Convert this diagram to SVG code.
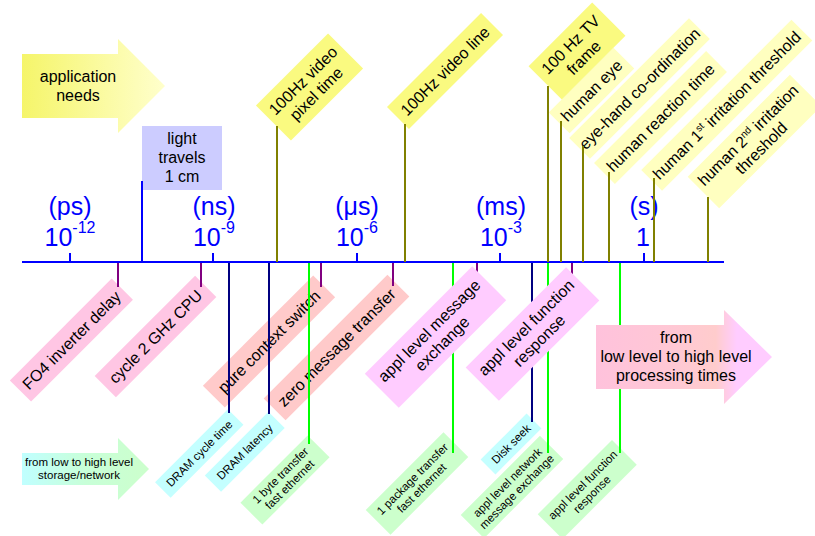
<svg xmlns="http://www.w3.org/2000/svg" width="815" height="536" viewBox="0 0 815 536">
<style>
.t{font-family:"Liberation Sans",Arial,sans-serif;fill:#000;text-anchor:middle}
.f16{font-size:16px}
.f11{font-size:11.5px}
.unit{font-family:"Liberation Sans",Arial,sans-serif;font-size:25px;fill:#0000ff;text-anchor:middle}
.yel{fill:#fafa80}
.pale{fill:#ffffc0;stroke:#fff;stroke-width:1.5}
.pk1{fill:#ffc6e4}
.pk2{fill:#ffcaca}
.mag{fill:#ffccff}
.cy{fill:#c4ffff}
.gn{fill:#ccffcc}
.bl{stroke:#0000ff;stroke-width:2}
.ol{stroke:#808000;stroke-width:2}
.pu{stroke:#800080;stroke-width:2}
.nv{stroke:#000080;stroke-width:2}
.gr{stroke:#00ff00;stroke-width:2}
</style>
<defs>
<linearGradient id="gApp" x1="0" y1="0" x2="1" y2="0">
<stop offset="0" stop-color="#f5f56a"/><stop offset="1" stop-color="#ffffcc"/>
</linearGradient>
<linearGradient id="gSto" x1="0" y1="0" x2="1" y2="0">
<stop offset="0" stop-color="#c0ffff"/><stop offset="0.5" stop-color="#c8ffd8"/><stop offset="1" stop-color="#ccffcc"/>
</linearGradient>
<linearGradient id="gProc" x1="0" y1="0" x2="1" y2="0">
<stop offset="0" stop-color="#ffc2dc"/><stop offset="0.45" stop-color="#ffc8d4"/><stop offset="0.68" stop-color="#ffcccc"/><stop offset="0.8" stop-color="#ffccff"/><stop offset="1" stop-color="#ffccff"/>
</linearGradient>
</defs>
<rect width="815" height="536" fill="#fff"/>

<g id="axis">
<line class="bl" x1="22" y1="262" x2="724" y2="262"/>
<line class="bl" x1="70" y1="253" x2="70" y2="262"/>
<line class="bl" x1="213" y1="253" x2="213" y2="262"/>
<line class="bl" x1="357" y1="253" x2="357" y2="262"/>
<line class="bl" x1="500" y1="253" x2="500" y2="262"/>
<line class="bl" x1="644" y1="253" x2="644" y2="262"/>
</g>

<g id="scale-labels">
<text class="unit" x="70" y="215">(ps)</text>
<text class="unit" x="70" y="246">10<tspan font-size="16" dy="-13">-12</tspan></text>
<text class="unit" x="214" y="215">(ns)</text>
<text class="unit" x="214" y="246">10<tspan font-size="16" dy="-13">-9</tspan></text>
<text class="unit" x="357" y="215">(μs)</text>
<text class="unit" x="357" y="246">10<tspan font-size="16" dy="-13">-6</tspan></text>
<text class="unit" x="501" y="215">(ms)</text>
<text class="unit" x="501" y="246">10<tspan font-size="16" dy="-13">-3</tspan></text>
<text class="unit" x="644" y="215">(s)</text>
<text class="unit" x="643" y="246">1</text>
</g>

<g id="app-needs">
<polygon points="22,54 118,54 118,39 165,86 118,133 118,118 22,118" fill="url(#gApp)"/>
<text class="t f16" x="78" y="82">application</text>
<text class="t f16" x="78" y="101">needs</text>
</g>

<g id="light-travels">
<rect x="142" y="126" width="80" height="64" fill="#ccccff"/>
<text class="t f16" x="182" y="144">light</text>
<text class="t f16" x="182" y="163">travels</text>
<text class="t f16" x="182" y="182">1 cm</text>
</g>

<g id="pixel-time" transform="translate(309.5,87) rotate(-45)">
<rect class="yel" x="-51" y="-24.75" width="102" height="49.5"/>
<text class="t f16" y="-3.5">100Hz video</text>
<text class="t f16" y="15">pixel time</text>
</g>
<g id="video-line" transform="translate(445,71) rotate(-45)">
<rect class="yel" x="-66.5" y="-15.5" width="133" height="31"/>
<text class="t f16" y="5.7">100Hz video line</text>
</g>
<g id="human-2nd" transform="translate(754.5,141.5) rotate(-45)">
<rect class="pale" x="-73" y="-23" width="146" height="46"/>
<text class="t f16" y="-3.5">human 2<tspan font-size="10" dy="-6">nd</tspan><tspan dy="6"> irritation</tspan></text>
<text class="t f16" y="15">threshold</text>
</g>
<g id="human-1st" transform="translate(726.75,105.25) rotate(-45)">
<rect class="pale" x="-107" y="-15.5" width="214" height="31"/>
<text class="t f16" y="5.7">human 1<tspan font-size="10" dy="-6">st</tspan><tspan dy="6"> irritation threshold</tspan></text>
</g>
<g id="reaction" transform="translate(660.5,117.5) rotate(-45)">
<rect class="pale" x="-80" y="-15.5" width="160" height="31"/>
<text class="t f16" y="5.7">human reaction time</text>
</g>
<g id="eye-hand" transform="translate(639.5,88.5) rotate(-45)">
<rect class="pale" x="-85.5" y="-15.5" width="171" height="31"/>
<text class="t f16" y="5.7">eye-hand co-ordination</text>
</g>
<g id="human-eye" transform="translate(591.5,90.5) rotate(-45)">
<rect class="pale" x="-46.5" y="-15.5" width="93" height="31"/>
<text class="t f16" y="5.7">human eye</text>
</g>
<g id="tv-frame" transform="translate(577,51) rotate(-45)">
<rect class="yel" x="-45" y="-23.5" width="90" height="47"/>
<text class="t f16" y="-3.5">100 Hz TV</text>
<text class="t f16" y="15">frame</text>
</g>

<g id="fo4" transform="translate(71.4,340.1) rotate(-45)">
<rect class="pk1" x="-72" y="-15" width="144" height="30"/>
<text class="t f16" y="5.7">FO4 inverter delay</text>
</g>
<g id="cycle" transform="translate(155.5,336.5) rotate(-45)">
<rect class="pk1" x="-71" y="-15" width="142" height="30"/>
<text class="t f16" y="5.7">cycle 2 GHz CPU</text>
</g>
<g id="context-switch" transform="translate(269,341.5) rotate(-45)">
<rect class="pk2" x="-78" y="-15.5" width="156" height="31"/>
<text class="t f16" y="5.7">pure context switch</text>
</g>
<g id="zero-msg" transform="translate(336.5,347.5) rotate(-45)">
<rect class="pk2" x="-87.5" y="-15.5" width="175" height="31"/>
<text class="t f16" y="5.7">zero message transfer</text>
</g>

<g id="storage-arrow">
<polygon points="22,453 118,453 118,438 149,469 118,500 118,485 22,485" fill="url(#gSto)"/>
<text class="t f11" x="79" y="466">from low to high level</text>
<text class="t f11" x="79" y="479">storage/network</text>
</g>
<g id="dram-cycle" transform="translate(199.25,453.5) rotate(-45)">
<rect class="cy" x="-51.5" y="-11" width="103" height="22"/>
<text class="t f11" y="4">DRAM cycle time</text>
</g>
<g id="dram-latency" transform="translate(244.75,451.75) rotate(-45)">
<rect class="cy" x="-45" y="-11.5" width="90" height="23"/>
<text class="t f11" y="4">DRAM latency</text>
</g>
<g id="byte-transfer" transform="translate(285,480) rotate(-45)">
<rect class="gn" x="-47.5" y="-15.5" width="95" height="31"/>
<text class="t f11" y="-2.5">1 byte transfer</text>
<text class="t f11" y="10.5">fast ethernet</text>
</g>
<g id="package-transfer" transform="translate(417,483.5) rotate(-45)">
<rect class="gn" x="-55" y="-17.5" width="110" height="35"/>
<text class="t f11" y="-2.5">1 package transfer</text>
<text class="t f11" y="10.5">fast ethernet</text>
</g>
<g id="net-exchange" transform="translate(512,487) rotate(-45)">
<rect class="gn" x="-56" y="-16.5" width="112" height="33"/>
<text class="t f11" y="-2.5">appl level network</text>
<text class="t f11" y="10.5">message exchange</text>
</g>
<g id="disk-seek" transform="translate(511,444) rotate(-45)">
<rect class="cy" x="-32.5" y="-10.5" width="65" height="21"/>
<text class="t f11" y="4">Disk seek</text>
</g>
<g id="func-response-small" transform="translate(587.25,489.5) rotate(-45)">
<rect class="gn" x="-52.5" y="-17.5" width="105" height="35"/>
<text class="t f11" y="-2.5">appl level function</text>
<text class="t f11" y="10.5">response</text>
</g>

<g id="connectors">
<line class="bl" x1="142" y1="181" x2="142" y2="262"/>
<line class="ol" x1="277" y1="126" x2="277" y2="262"/>
<line class="ol" x1="405" y1="124" x2="405" y2="262"/>
<line class="ol" x1="548" y1="86" x2="548" y2="262"/>
<line class="ol" x1="561" y1="121" x2="561" y2="262"/>
<line class="ol" x1="583" y1="146" x2="583" y2="262"/>
<line class="ol" x1="609" y1="172" x2="609" y2="262"/>
<line class="ol" x1="654" y1="178" x2="654" y2="262"/>
<line class="ol" x1="708" y1="197" x2="708" y2="262"/>
<line class="pu" x1="118" y1="263" x2="118" y2="287"/>
<line class="pu" x1="201" y1="263" x2="201" y2="287"/>
<line class="pu" x1="321" y1="263" x2="321" y2="287"/>
<line class="pu" x1="393" y1="263" x2="393" y2="286"/>
<line class="pu" x1="477" y1="263" x2="477" y2="287"/>
<line class="pu" x1="572" y1="263" x2="572" y2="287"/>
<line class="nv" x1="229" y1="263" x2="229" y2="413"/>
<line class="nv" x1="269" y1="263" x2="269" y2="414"/>
<line class="nv" x1="532" y1="263" x2="532" y2="422"/>
<line class="gr" x1="309" y1="263" x2="309" y2="444"/>
<line class="gr" x1="453" y1="263" x2="453" y2="453"/>
<line class="gr" x1="548" y1="263" x2="548" y2="453"/>
<line class="gr" x1="620" y1="263" x2="620" y2="453"/>
</g>

<g id="msg-exchange" transform="translate(435.5,337) rotate(-45)">
<rect class="mag" x="-76" y="-24" width="152" height="48"/>
<text class="t f16" y="-3.5">appl level message</text>
<text class="t f16" y="15">exchange</text>
</g>
<g id="func-response" transform="translate(532.5,334) rotate(-45)">
<rect class="mag" x="-71" y="-23.5" width="142" height="47"/>
<text class="t f16" y="-3.5">appl level function</text>
<text class="t f16" y="15">response</text>
</g>
<g id="processing-arrow">
<polygon points="596,325 724,325 724,310 772,357 724,404 724,389 596,389" fill="url(#gProc)"/>
<text class="t f16" x="676" y="343">from</text>
<text class="t f16" x="676" y="362">low level to high level</text>
<text class="t f16" x="676" y="381">processing times</text>
</g>
</svg>
